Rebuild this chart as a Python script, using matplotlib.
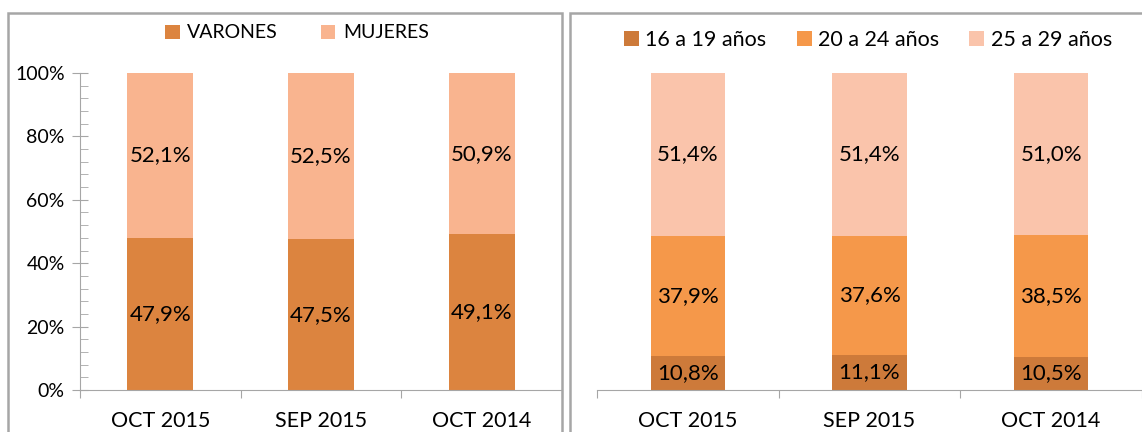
import numpy as np
import matplotlib
matplotlib.use("Agg")
import matplotlib.pyplot as plt
from matplotlib.patches import Rectangle
from matplotlib.ticker import MultipleLocator, PercentFormatter

plt.rcParams['font.family'] = ['Lato', 'DejaVu Sans']

# data
periods = ['OCT 2015', 'SEP 2015', 'OCT 2014']
varones = [47.9, 47.5, 49.1]
mujeres = [52.1, 52.5, 50.9]
edad_16_19 = [10.8, 11.1, 10.5]
edad_20_24 = [37.9, 37.6, 38.5]
edad_25_29 = [51.4, 51.4, 51.0]

W, H = 1142, 432
fig = plt.figure(figsize=(W / 100, H / 100), dpi=100)

def fx(px):
    return px / W

def fy(py):
    return 1 - py / H

# panel borders
border_col = '#a6a6a6'
fig.patches.append(Rectangle((fx(8), fy(450)), fx(562 - 8), fy(13) - fy(450),
                             transform=fig.transFigure, fill=False,
                             edgecolor=border_col, lw=1.8))
fig.patches.append(Rectangle((fx(570), fy(450)), fx(1160 - 570), fy(13) - fy(450),
                             transform=fig.transFigure, fill=False,
                             edgecolor=border_col, lw=1.8))

ax1 = fig.add_axes([fx(80), fy(390), fx(562 - 80), fy(73) - fy(390)])
ax2 = fig.add_axes([fx(597), fy(390), fx(1142 - 597), fy(73) - fy(390)])

x = np.arange(len(periods))
bw = 0.41

def style(ax, show_y):
    ax.set_xlim(-0.5, 2.5)
    ax.set_ylim(0, 100)
    for s in ['top', 'right']:
        ax.spines[s].set_visible(False)
    ax.spines['bottom'].set_color(border_col)
    ax.spines['left'].set_color(border_col)
    ax.set_xticks([-0.5, 0.5, 1.5, 2.5])
    ax.set_xticklabels([])
    ax.set_xticks(x, minor=True)
    ax.set_xticklabels(periods, minor=True, fontsize=15.5)
    ax.tick_params(axis='x', which='major', direction='out', length=6,
                   color=border_col)
    ax.tick_params(axis='x', which='minor', length=0, pad=15)
    if show_y:
        ax.yaxis.set_major_locator(MultipleLocator(20))
        ax.yaxis.set_minor_locator(MultipleLocator(4))
        ax.yaxis.set_major_formatter(PercentFormatter(decimals=0))
        ax.tick_params(axis='y', which='major', direction='inout', length=12,
                       color=border_col, labelsize=14, pad=5)
        ax.tick_params(axis='y', which='minor', direction='in', length=6,
                       color=border_col)
    else:
        ax.spines['left'].set_visible(False)
        ax.set_yticks([])

def fmt(v):
    return f'{v:.1f}%'.replace('.', ',')

lab_size = 16

# left chart: sexo
b1 = ax1.bar(x, varones, bw, color='#dc843f', label='VARONES')
b2 = ax1.bar(x, mujeres, bw, bottom=varones, color='#f9b48f', label='MUJERES')
ax1.bar_label(b1, labels=[fmt(v) for v in varones], label_type='center', fontsize=lab_size)
ax1.bar_label(b2, labels=[fmt(v) for v in mujeres], label_type='center', fontsize=lab_size)
style(ax1, True)

# right chart: edad
bot2 = np.array(edad_16_19)
bot3 = bot2 + np.array(edad_20_24)
c1 = ax2.bar(x, edad_16_19, bw, color='#cd7a3a', label='16 a 19 años')
c2 = ax2.bar(x, edad_20_24, bw, bottom=bot2, color='#f5984a', label='20 a 24 años')
c3 = ax2.bar(x, edad_25_29, bw, bottom=bot3, color='#fac4ab', label='25 a 29 años')
ax2.bar_label(c1, labels=[fmt(v) for v in edad_16_19], label_type='center', fontsize=lab_size)
ax2.bar_label(c2, labels=[fmt(v) for v in edad_20_24], label_type='center', fontsize=lab_size)
ax2.bar_label(c3, labels=[fmt(v) for v in edad_25_29], label_type='center', fontsize=lab_size)
style(ax2, False)

fig.legend(handles=[b1, b2], loc='center', bbox_to_anchor=(fx(297), fy(33)),
           ncol=2, frameon=False, fontsize=14, handlelength=0.75,
           handleheight=0.75, handletextpad=0.4, columnspacing=2.2)
fig.legend(handles=[c1, c2, c3], loc='center', bbox_to_anchor=(fx(868), fy(40)),
           ncol=3, frameon=False, fontsize=15.5, handlelength=0.7,
           handleheight=0.7, handletextpad=0.3, columnspacing=1.4)

fig.savefig('out.png', dpi=100)
